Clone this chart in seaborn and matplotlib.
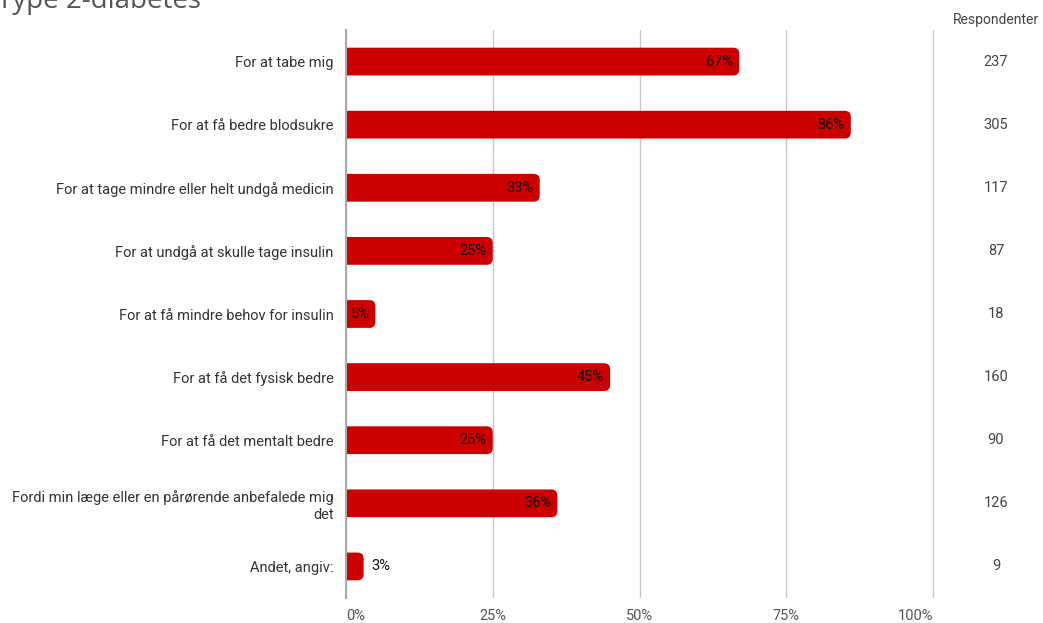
import matplotlib
matplotlib.use("Agg")
import matplotlib.pyplot as plt
import matplotlib.transforms as mtransforms
from matplotlib.patches import FancyBboxPatch
import seaborn as sns
import pandas as pd

categories = [
    "For at tabe mig",
    "For at få bedre blodsukre",
    "For at tage mindre eller helt undgå medicin",
    "For at undgå at skulle tage insulin",
    "For at få mindre behov for insulin",
    "For at få det fysisk bedre",
    "For at få det mentalt bedre",
    "Fordi min læge eller en pårørende anbefalede mig\ndet",
    "Andet, angiv:",
]
shares = [0.67, 0.86, 0.33, 0.25, 0.05, 0.45, 0.25, 0.36, 0.03]
pct_labels = ["67%", "86%", "33%", "25%", "5%", "45%", "25%", "36%", "3%"]
respondents = [237, 305, 117, 87, 18, 160, 90, 126, 9]
xticks = [0, 0.25, 0.5, 0.75, 1.0]
xtick_labels = ["0%", "25%", "50%", "75%", "100%"]
title = "Type 2-diabetes"

df = pd.DataFrame({"cat": categories, "share": shares})

sns.set_style("white")
plt.rcParams["font.family"] = ["Roboto", "DejaVu Sans"]

W, H = 1043, 623
fig = plt.figure(figsize=(W / 100, H / 100), dpi=100)
ax = fig.add_axes([346 / W, 1 - 598 / H, (935 - 346) / W, (598 - 30) / H])

sns.barplot(data=df, y="cat", x="share", orient="h", color="#cc0000",
            width=0.44, ax=ax, saturation=1)

ax.set_xlim(0, 589 / 587)
ax.set_ylim(len(categories) - 0.5, -0.5)

# rounded right ends (left corners hidden past the axis edge)
px_x = 1.0 / 587
px_y = 1.0 / 63
r = 6 * px_x
aspect = px_y / px_x
for p in list(ax.patches):
    x0, y0, w, h = p.get_x(), p.get_y(), p.get_width(), p.get_height()
    p.remove()
    fb = FancyBboxPatch((x0 - 2 * r, y0), w + 2 * r, h,
                        boxstyle=f"round,pad=0,rounding_size={r}",
                        mutation_aspect=aspect, facecolor="#cc0000",
                        edgecolor="none", zorder=2)
    ax.add_patch(fb)

ax.set_xticks(xticks)
ax.set_xticklabels(xtick_labels)
tl = ax.get_xticklabels()
tl[0].set_horizontalalignment("left")
tl[-1].set_horizontalalignment("right")
ax.grid(axis="x", color="#c8c8c8", linewidth=1)
ax.set_axisbelow(True)
for s in ["top", "right", "bottom"]:
    ax.spines[s].set_visible(False)
ax.spines["left"].set_color("#aaaaaa")
ax.spines["left"].set_linewidth(1.5)
ax.spines["left"].set_zorder(3)
ax.set_xlabel("")
ax.set_ylabel("")
ax.tick_params(axis="x", length=0, pad=8, labelsize=10.5, labelcolor="#555555")
ax.tick_params(axis="y", length=0, pad=9, labelsize=10.5, labelcolor="#333333")

# value labels
for i, (v, lab) in enumerate(zip(shares, pct_labels)):
    if v >= 0.04:
        ax.text(v - 6 * px_x, i, lab, ha="right", va="center", fontsize=10.5,
                color="#111111", zorder=4)
    else:
        ax.text(v + 8 * px_x, i, lab, ha="left", va="center", fontsize=10.5,
                color="#111111", zorder=4)

# respondents column
trans = mtransforms.blended_transform_factory(fig.transFigure, ax.transData)
for i, n in enumerate(respondents):
    ax.text(996 / W, i, str(n), transform=trans, ha="center", va="center",
            fontsize=10.5, color="#444444")
fig.text(996 / W, 1 - 20 / H, "Respondenter", ha="center", va="center",
         fontsize=10, color="#444444")

fig.text(-3 / W, 1 - 8 / H, title, ha="left", va="baseline", fontsize=20,
         color="#555555", family=["Open Sans", "DejaVu Sans"])

fig.savefig("out.png", dpi=100)
